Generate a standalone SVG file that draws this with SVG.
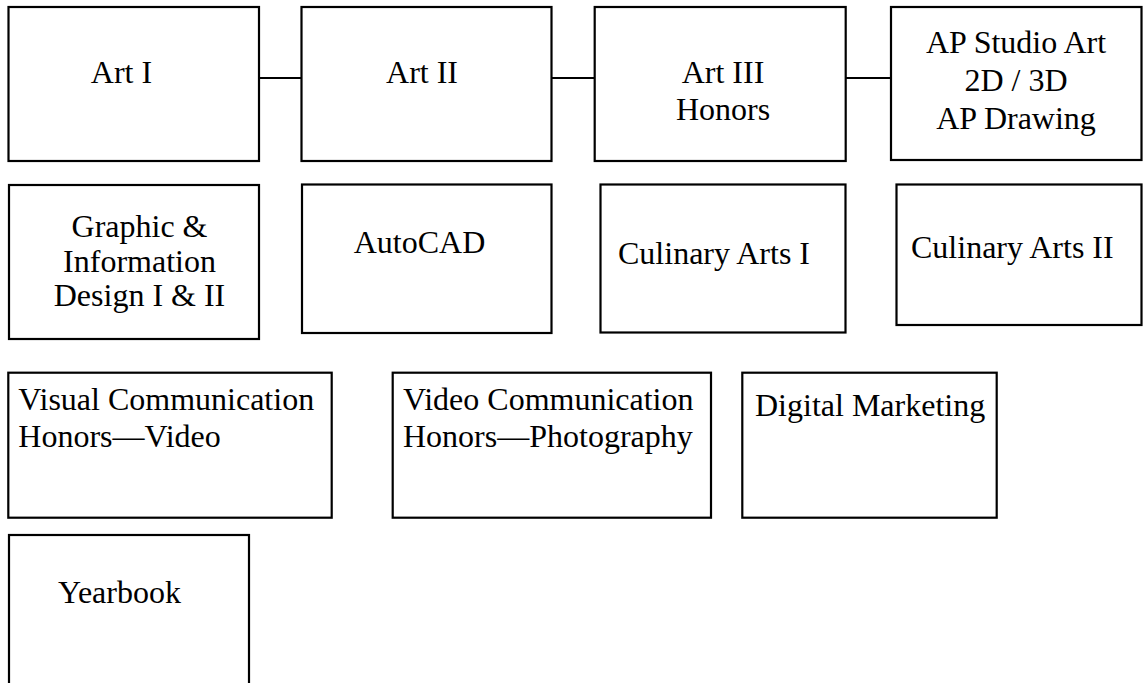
<svg xmlns="http://www.w3.org/2000/svg" width="1143" height="683" viewBox="0 0 1143 683">
<style>
.box{fill:#fff;stroke:#000;stroke-width:2.2}
.conn{stroke:#000;stroke-width:2.2;fill:none}
text{font-family:"Liberation Serif","Times New Roman",serif;font-size:32px;fill:#000}
.c{text-anchor:middle}
</style>
<rect width="1143" height="683" fill="#fff"/>
<g id="connectors">
<line class="conn" x1="259" y1="78" x2="301.5" y2="78"/>
<line class="conn" x1="551.5" y1="78" x2="594.7" y2="78"/>
<line class="conn" x1="845.7" y1="78" x2="891" y2="78"/>
</g>
<g id="art1">
<rect class="box" x="8.5" y="7" width="250.5" height="154"/>
<text class="c" x="121.5" y="83">Art I</text>
</g>
<g id="art2">
<rect class="box" x="301.5" y="7" width="250" height="154"/>
<text class="c" x="422" y="83">Art II</text>
</g>
<g id="art3">
<rect class="box" x="594.7" y="7" width="251" height="154"/>
<text class="c" x="723" y="83">Art III</text>
<text class="c" x="723" y="120">Honors</text>
</g>
<g id="apstudio">
<rect class="box" x="891" y="7" width="250.5" height="153"/>
<text class="c" x="1016" y="53">AP Studio Art</text>
<text class="c" x="1016" y="91">2D / 3D</text>
<text class="c" x="1016" y="128.5">AP Drawing</text>
</g>
<g id="graphic">
<rect class="box" x="9" y="185" width="250" height="154"/>
<text class="c" x="139.5" y="237">Graphic &amp;</text>
<text class="c" x="139.5" y="271.5">Information</text>
<text class="c" x="139.5" y="305.5">Design I &amp; II</text>
</g>
<g id="autocad">
<rect class="box" x="302" y="184.5" width="249.5" height="148.5"/>
<text class="c" x="419.5" y="252.5">AutoCAD</text>
</g>
<g id="culinary1">
<rect class="box" x="600.5" y="184.5" width="245" height="148"/>
<text x="618" y="264">Culinary Arts I</text>
</g>
<g id="culinary2">
<rect class="box" x="896.5" y="184.5" width="245" height="140.5"/>
<text x="911" y="258">Culinary Arts II</text>
</g>
<g id="visual">
<rect class="box" x="8.3" y="372.7" width="323.4" height="145"/>
<text x="18.3" y="410">Visual Communication</text>
<text x="18.3" y="446.7">Honors—Video</text>
</g>
<g id="video">
<rect class="box" x="392.7" y="372.7" width="318.3" height="145"/>
<text x="403" y="410">Video Communication</text>
<text x="403" y="446.7">Honors—Photography</text>
</g>
<g id="digital">
<rect class="box" x="742.3" y="372.7" width="254.4" height="145"/>
<text x="755" y="416">Digital Marketing</text>
</g>
<g id="yearbook">
<rect class="box" x="9" y="535" width="240" height="170"/>
<text x="58" y="603">Yearbook</text>
</g>
</svg>
